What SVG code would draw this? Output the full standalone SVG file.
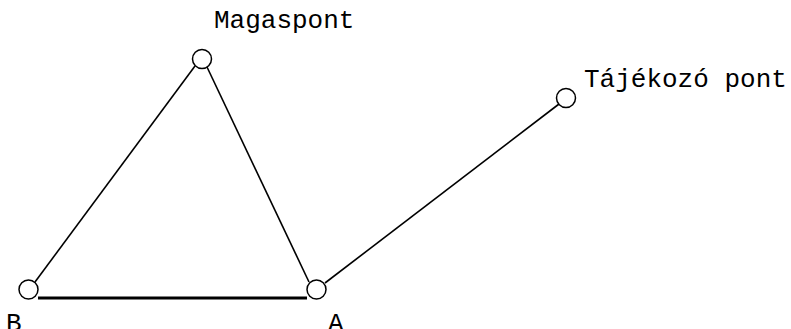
<svg xmlns="http://www.w3.org/2000/svg" width="791" height="329" viewBox="0 0 791 329">
<style>
.n{fill:#fff;stroke:#000;stroke-width:1.5}
.e{stroke:#000;stroke-width:1.6;fill:none}
.t{font-family:"Liberation Mono",monospace;font-size:26px;fill:#000}
</style>
<rect width="791" height="329" fill="#fff"/>
<g id="connectors">
<line class="e" x1="35" y1="282" x2="195" y2="66"/>
<line class="e" x1="207" y1="67" x2="309" y2="282"/>
<line class="e" x1="325" y1="283" x2="559" y2="104"/>
<line class="e" x1="38" y1="298" x2="307" y2="298" style="stroke-width:3"/>
</g>
<g id="magaspont"><circle class="n" cx="202" cy="59" r="9.5"/><text class="t" x="214" y="28">Magaspont</text></g>
<g id="tajekozo"><circle class="n" cx="566" cy="98" r="9.5"/><text class="t" x="584" y="87">Tájékozó pont</text></g>
<g id="B"><circle class="n" cx="28.5" cy="289.5" r="9.5"/><text class="t" x="6" y="331">B</text></g>
<g id="A"><circle class="n" cx="316.5" cy="289.5" r="9.5"/><text class="t" x="328" y="331">A</text></g>
</svg>
